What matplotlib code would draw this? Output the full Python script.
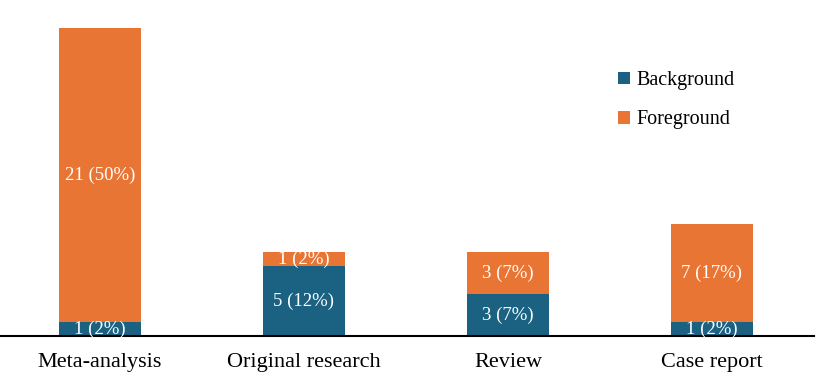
import matplotlib
matplotlib.use("Agg")
import matplotlib.pyplot as plt
import numpy as np

categories = ["Meta-analysis", "Original research", "Review", "Case report"]
background = [1, 5, 3, 1]
foreground = [21, 1, 3, 7]
bg_labels = ["1 (2%)", "5 (12%)", "3 (7%)", "1 (2%)"]
fg_labels = ["21 (50%)", "1 (2%)", "3 (7%)", "7 (17%)"]

blue = "#1b6282"
orange = "#e97535"

plt.rcParams['font.family'] = ['Liberation Serif', 'DejaVu Serif']

fig = plt.figure(figsize=(8.18, 3.84), dpi=100)
ax = fig.add_axes([0, 48/384, 814/818, 336/384])
x = np.arange(len(categories))
w = 0.40
b1 = ax.bar(x, background, w, color=blue, label="Background")
b2 = ax.bar(x, foreground, w, bottom=background, color=orange, label="Foreground")

for i in range(len(categories)):
    ax.text(x[i], background[i] / 2, bg_labels[i], ha="center", va="center",
            color="white", fontsize=13.5)
    ax.text(x[i], background[i] + foreground[i] / 2, fg_labels[i], ha="center",
            va="center", color="white", fontsize=13.5)

ax.set_xlim(-0.49, 3.5)
ax.set_ylim(0, 24)
ax.set_xticks(x)
ax.set_xticklabels(categories, fontsize=16)
ax.tick_params(axis="x", length=0, pad=12)
ax.set_yticks([])
for s in ["top", "right", "left"]:
    ax.spines[s].set_visible(False)
ax.spines["bottom"].set_linewidth(1.5)
ax.spines["bottom"].set_color("black")

fig.legend(handles=[b1, b2], labels=["Background", "Foreground"],
           loc="upper left", bbox_to_anchor=(600/818, 1 - 53/384),
           frameon=False, fontsize=14.5, handlelength=0.6, handleheight=0.6,
           handletextpad=0.3, labelspacing=1.0)

fig.savefig("out.png", dpi=100)
